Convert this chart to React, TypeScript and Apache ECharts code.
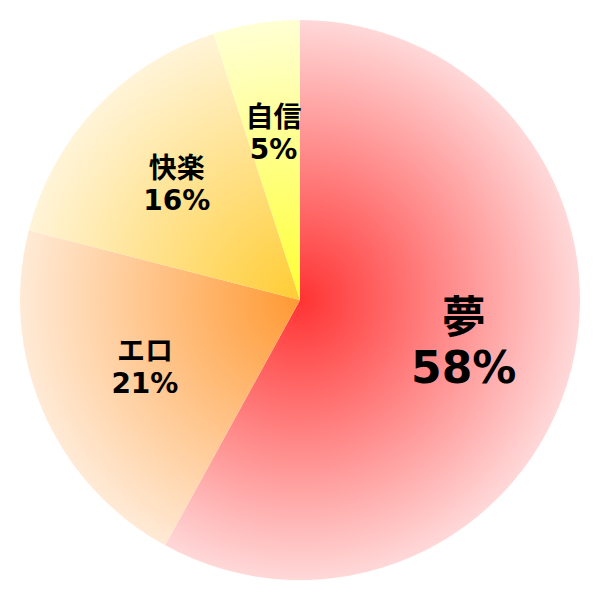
import { useEffect, useRef } from "react";
import * as echarts from "echarts";

const names = ["夢", "エロ", "快楽", "自信"];
const values = [58, 21, 16, 5];
const centerColors = ["#ff3333", "#ff9933", "#ffcc33", "#ffff33"];
const edgeColors = ["#ffd8d8", "#ffead6", "#fff4d8", "#ffffd4"];

const FONT = "'DejaVu Sans', 'Noto Sans CJK JP', sans-serif";

export default function App(): JSX.Element {
  const ref = useRef<HTMLDivElement | null>(null);

  useEffect(() => {
    document.body.style.margin = "0";
    const el = ref.current;
    if (!el) return;
    const chart = echarts.init(el, null, { renderer: "svg" });

    const fillData = names.map((name, i) => ({
      name,
      value: values[i],
      itemStyle: {
        color: new echarts.graphic.RadialGradient(
          300,
          300,
          280,
          [
            { offset: 0, color: centerColors[i] },
            { offset: 1, color: edgeColors[i] },
          ],
          true,
        ),
      },
    }));

    const small = { fontSize: 28, fontWeight: "bold", color: "#000", fontFamily: FONT, lineHeight: 32 };
    const big = { fontSize: 44, fontWeight: "bold", color: "#000", fontFamily: FONT, lineHeight: 50 };

    const labelData = names.map((name, i) => ({
      name,
      value: values[i],
      label: {
        formatter: "{b}\n{c}%",
        ...(i === 0 ? big : small),
      },
    }));

    chart.setOption({
      animation: false,
      series: [
        {
          type: "pie",
          center: ["50%", "50%"],
          radius: [0, 280],
          startAngle: 90,
          clockwise: true,
          silent: true,
          label: { show: false },
          labelLine: { show: false },
          itemStyle: { borderWidth: 0 },
          data: fillData,
        },
        {
          type: "pie",
          center: ["50%", "50%"],
          radius: [52, 280],
          startAngle: 90,
          clockwise: true,
          silent: true,
          itemStyle: { color: "transparent", borderWidth: 0 },
          label: { show: true, position: "inside" },
          labelLine: { show: false },
          data: labelData,
        },
      ],
    });

    return () => chart.dispose();
  }, []);

  return <div ref={ref} style={{ width: 600, height: 600 }} />;
}
